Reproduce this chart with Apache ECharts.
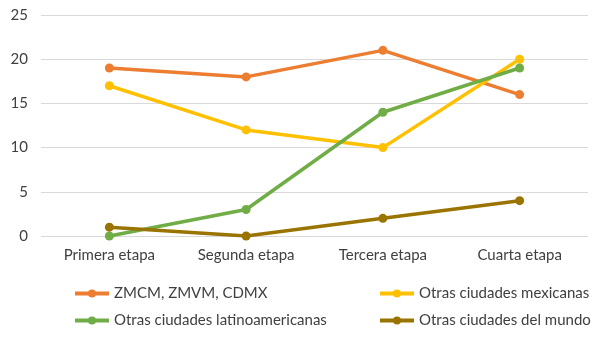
<!DOCTYPE html>
<html>
<head>
<meta charset="utf-8">
<script src="https://cdn.jsdelivr.net/npm/echarts@6/dist/echarts.min.js"></script>
<style>
  html, body { margin: 0; padding: 0; background: #fff; }
  #chart { width: 605px; height: 344px; }
</style>
</head>
<body>
<div id="chart"></div>
<script>
const categories = ["Primera etapa", "Segunda etapa", "Tercera etapa", "Cuarta etapa"];
const seriesNames = [
  "ZMCM, ZMVM, CDMX",
  "Otras ciudades mexicanas",
  "Otras ciudades latinoamericanas",
  "Otras ciudades del mundo"
];
const zmcm = [19, 18, 21, 16];
const mexicanas = [17, 12, 10, 20];
const latinoamericanas = [0, 3, 14, 19];
const mundo = [1, 0, 2, 4];
const colors = ["#ED7D31", "#FFC000", "#70AD47", "#9A7400"];

const chart = echarts.init(document.getElementById("chart"));
const font = "Lato, 'Open Sans', sans-serif";

const makeSeries = (name, data, color) => ({
  name: name,
  type: "line",
  data: data,
  symbol: "circle",
  symbolSize: 9,
  color: color,
  lineStyle: {width: 3.5, color: color},
  itemStyle: {color: color},
  animation: false
});

const legendBase = {
  orient: "vertical",
  padding: 0,
  itemWidth: 34,
  itemHeight: 10,
  itemGap: 12,
  lineStyle: {width: 4},
  textStyle: {color: "#404040", fontSize: 15, fontFamily: font}
};

chart.setOption({
  grid: {left: 41, right: 17, top: 15, bottom: 108},
  xAxis: {
    type: "category",
    data: categories,
    axisLine: {show: false},
    axisTick: {show: false},
    axisLabel: {color: "#404040", fontSize: 15, fontFamily: font, margin: 12}
  },
  yAxis: {
    type: "value",
    min: 0,
    max: 25,
    interval: 5,
    axisLabel: {color: "#404040", fontSize: 15, fontFamily: font, margin: 13},
    splitLine: {lineStyle: {color: "#D9D9D9", width: 1}}
  },
  legend: [
    Object.assign({left: 73, top: 286, data: [seriesNames[0], seriesNames[2]]}, legendBase),
    Object.assign({left: 378, top: 286, data: [seriesNames[1], seriesNames[3]]}, legendBase)
  ],
  series: [
    makeSeries(seriesNames[0], zmcm, colors[0]),
    makeSeries(seriesNames[1], mexicanas, colors[1]),
    makeSeries(seriesNames[2], latinoamericanas, colors[2]),
    makeSeries(seriesNames[3], mundo, colors[3])
  ]
});
</script>
</body>
</html>
